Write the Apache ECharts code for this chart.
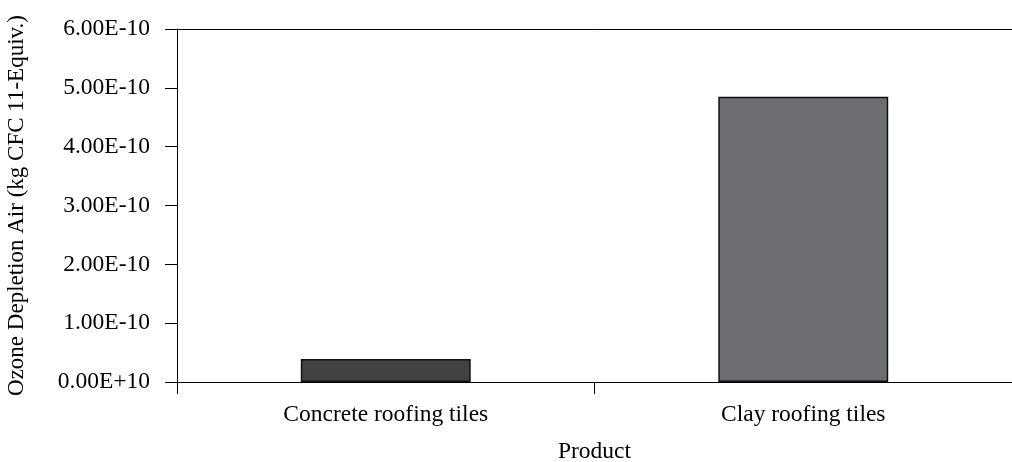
<!DOCTYPE html>
<html><head><meta charset="utf-8">
<script src="https://cdn.jsdelivr.net/npm/echarts@6/dist/echarts.min.js"></script>
<style>html,body{margin:0;padding:0;background:#fff}#c{width:1012px;height:462px}</style>
</head><body><div id="c"></div>
<script>
const categories = ['Concrete roofing tiles', 'Clay roofing tiles'];
const values = [3.9e-11, 4.85e-10];
const barColors = ['#424242', '#6d6e71'];
const yTickLabels = ['0.00E+10', '1.00E-10', '2.00E-10', '3.00E-10', '4.00E-10', '5.00E-10', '6.00E-10'];
const yAxisTitle = 'Ozone Depletion Air (kg CFC 11-Equiv.)';
const xAxisTitle = 'Product';

const font = 'Liberation Serif';
const fs = 23.5;
const chart = echarts.init(document.getElementById('c'));
chart.setOption({
  animation: false,
  grid: {left: 177, top: 29, right: 0, bottom: 80, containLabel: false, outerBoundsMode: 'none'},
  xAxis: [{
    type: 'category', data: categories,
    axisLine: {lineStyle: {color: '#000', width: 1}},
    axisTick: {show: true, length: 12, lineStyle: {color: '#000'}},
    axisLabel: {color: '#000', fontFamily: font, fontSize: fs, margin: 21},
    name: xAxisTitle, nameLocation: 'middle', nameGap: 58,
    nameTextStyle: {color: '#000', fontFamily: font, fontSize: fs}
  }, {
    type: 'category', data: categories, position: 'top',
    axisLine: {lineStyle: {color: '#000', width: 1}},
    axisTick: {show: false}, axisLabel: {show: false}
  }],
  yAxis: {
    type: 'value', min: 0, max: 6e-10, interval: 1e-10,
    axisLine: {show: true, lineStyle: {color: '#000'}},
    axisTick: {show: true, length: 12, lineStyle: {color: '#000'}},
    splitLine: {show: false},
    axisLabel: {color: '#000', fontFamily: font, fontSize: fs, margin: 27,
      formatter: v => yTickLabels[Math.round(v / 1e-10)]},
    name: yAxisTitle, nameLocation: 'middle', nameGap: 149,
    nameTextStyle: {color: '#000', fontFamily: font, fontSize: 23, padding: [0, 0, 0, 0]}
  },
  series: [{
    type: 'bar', barWidth: '40.7%',
    data: values.map((v, i) => ({value: v, itemStyle: {color: barColors[i]}})),
    itemStyle: {borderColor: '#111', borderWidth: 1.5}
  }]
});
</script></body></html>
